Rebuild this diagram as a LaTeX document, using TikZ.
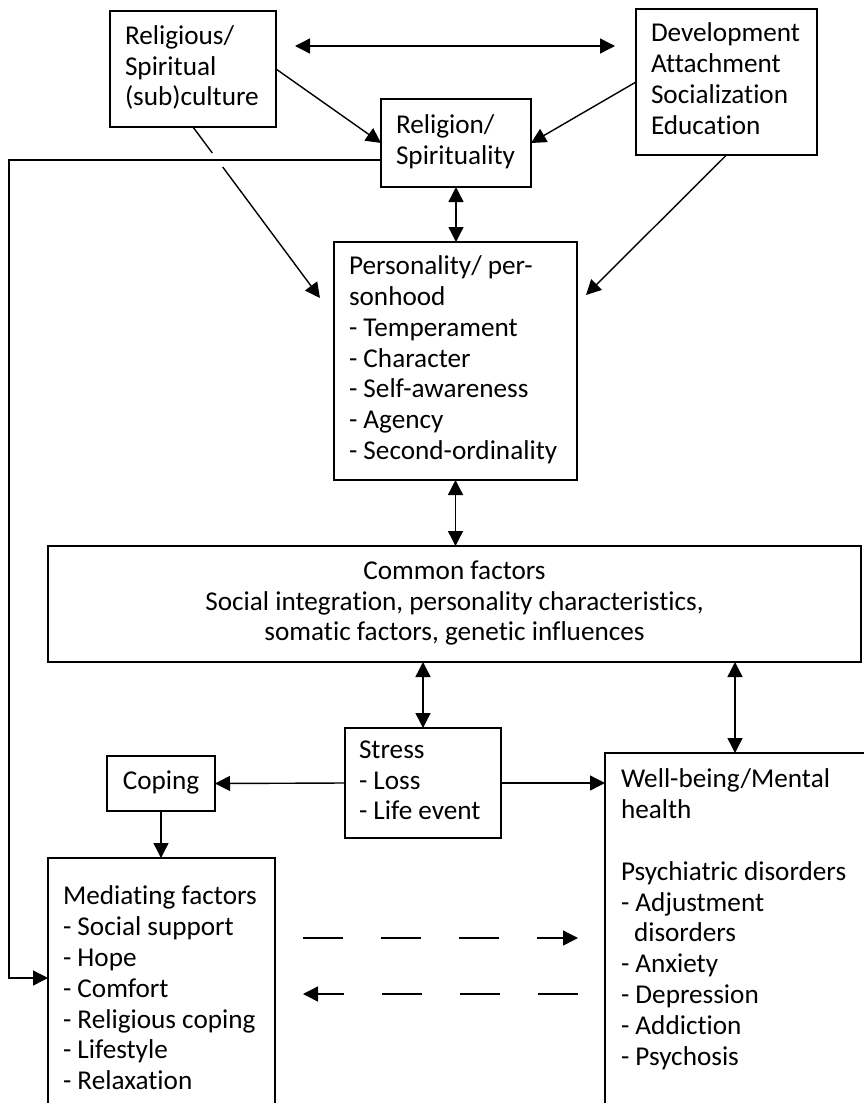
\documentclass[tikz,border=0pt]{standalone}
\usepackage{fontspec}
\setmainfont{Carlito}[Ligatures=CommonOff]
\usepackage{tikz}
\usetikzlibrary{arrows.meta, positioning, calc}
\newcommand{\boxfont}{\fontsize{13.6}{15.4}\selectfont}

\begin{document}
\begin{tikzpicture}[
  x=0.5pt, y=-0.5pt,
  box/.style={draw, line width=0.7pt, outer sep=0pt, inner xsep=7.5pt, inner ysep=2pt,
              anchor=north west, align=left, font=\boxfont,
              execute at begin node={\spaceskip=\fontdimen2\font\xspaceskip=\fontdimen2\font\hyphenpenalty=10000\strut},
              execute at end node=\strut},
  arr/.style={-{Triangle[length=7.5pt, width=7.5pt]}, line width=0.7pt},
  dbl/.style={{Triangle[length=7.5pt, width=7.5pt]}-{Triangle[length=7.5pt, width=7.5pt]}, line width=0.7pt},
  brokenarr/.style={arr, dash pattern=on 20pt off 19pt}
]
  \useasboundingbox (0,0) rectangle (863,1103);

  % Top row
  \node[box, text width=68pt, minimum height=58pt] (rsc) at (110,11)
    {Religious/\\Spiritual\\(sub)culture};
  \node[box, text width=75.5pt, minimum height=73pt] (dev) at (636,9)
    {Development\\Attachment\\Socialization\\Education};
  \node[box, text width=60pt, minimum height=44pt] (rel) at (381,99)
    {Religion/\\Spirituality};

  % Personality
  \node[box, text width=106.5pt, minimum height=119pt] (pers) at (334,242)
    {Personality/~per-\\sonhood\\- Temperament\\- Character\\- Self-awareness\\- Agency\\- Second-ordinality};

  % Common factors
  \node[box, text width=391.5pt, minimum height=58pt, align=center] (common) at (48,546)
    {Common factors\\Social integration, personality characteristics,\\somatic factors, genetic influences};

  % Stress and coping
  \node[box, text width=64pt, inner xsep=7pt, minimum height=55pt] (stress) at (345,728)
    {Stress\\- Loss\\- Life~event};
  \node[box, text width=39pt, minimum height=27.5pt, align=center] (coping) at (107,756) {Coping};

  % Bottom boxes (open at the page edge)
  \node[box, text width=98.5pt, inner ysep=12.7pt, text depth=120pt] (med) at (48,858)
    {Mediating~factors\\- Social~support\\- Hope\\- Comfort\\- Religious~coping\\- Lifestyle\\- Relaxation};
  \node[box, text width=150pt, inner xsep=8pt, inner ysep=6.7pt, text depth=170pt] (wb) at (605,753)
    {Well-being/Mental\\health\\[15.4pt]Psychiatric~disorders\\- Adjustment\\\hspace*{6.5pt}disorders\\- Anxiety\\- Depression\\- Addiction\\- Psychosis};

  \coordinate (perstl) at ([shift={(-14,56)}]pers.north west);
  \coordinate (perstr) at ([shift={(9,53)}]pers.north east);
  \coordinate (wbtop) at ([xshift=65pt]wb.north west);
  \coordinate (loop) at (9,978);

  % Arrows
  \draw[dbl] ([shift={(19,35)}]rsc.north east) -- ([shift={(-21,37)}]dev.north west);
  \draw[arr] (rsc.east) -- (rel.west);
  \draw[arr] (dev.west) -- (rel.east);
  \draw[dbl] (rel.south) -- (rel.south |- pers.north);

  \draw[line width=0.7pt] (rsc.south) -- ($(rsc.south)!0.152!(perstl)$);
  \draw[arr] ($(rsc.south)!0.234!(perstl)$) -- (perstl);
  \draw[arr] (dev.south) -- (perstr);

  \draw[arr] ([yshift=-8.5pt]rel.west) -| (loop) -- (loop -| med.west);

  \draw[dbl] (pers.south) -- (pers.south |- common.north);
  \draw[dbl] (stress.north |- common.south) -- (stress.north);
  \draw[dbl] (wbtop |- common.south) -- (wbtop);

  \draw[arr] (stress.west) -- (coping.east);
  \draw[arr] (stress.east) -- (stress.east -| wb.west);
  \draw[arr] (coping.south) -- (coping.south |- med.north);

  \draw[brokenarr] ([shift={(28,80)}]med.north east) -- ([shift={(-27,185)}]wb.north west);
  \draw[brokenarr] ([shift={(-27,241)}]wb.north west) -- ([shift={(28,136)}]med.north east);
\end{tikzpicture}
\end{document}
